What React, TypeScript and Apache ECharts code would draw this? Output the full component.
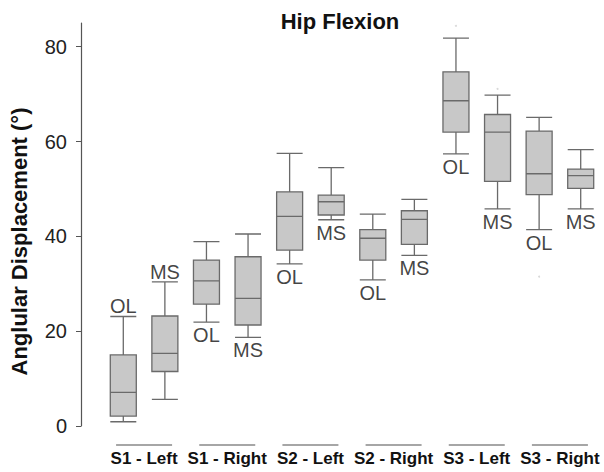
import React, { useEffect, useRef } from "react";
import * as echarts from "echarts";

const boxCategories = [
  "S1 - Left OL", "S1 - Left MS", "S1 - Right OL", "S1 - Right MS",
  "S2 - Left OL", "S2 - Left MS", "S2 - Right OL", "S2 - Right MS",
  "S3 - Left OL", "S3 - Left MS", "S3 - Right OL", "S3 - Right MS",
];
const groupLabels = ["S1 - Left", "S1 - Right", "S2 - Left", "S2 - Right", "S3 - Left", "S3 - Right"];
// [min, Q1, median, Q3, max]
const boxValues = [
  [0.9, 2.1, 7.1, 15.0, 23.1],
  [5.6, 11.5, 15.3, 23.2, 30.4],
  [21.9, 25.7, 30.6, 35.0, 38.9],
  [18.7, 21.3, 26.9, 35.7, 40.5],
  [34.2, 37.1, 44.2, 49.4, 57.5],
  [43.5, 44.5, 47.3, 48.7, 54.5],
  [30.8, 35.0, 39.6, 41.4, 44.7],
  [36.0, 38.3, 43.6, 45.4, 47.8],
  [57.4, 62.0, 68.6, 74.7, 81.8],
  [45.8, 51.6, 62.0, 65.7, 69.8],
  [41.4, 48.8, 53.2, 62.2, 65.1],
  [45.8, 50.1, 52.8, 54.2, 58.3],
];
const phaseLabels = ["OL", "MS", "OL", "MS", "OL", "MS", "OL", "MS", "OL", "MS", "OL", "MS"];
const phaseLabelSide = ["top", "top", "bottom", "bottom", "bottom", "bottom", "bottom", "bottom", "bottom", "bottom", "bottom", "bottom"];
const outliers = [
  [8, 84.4],
  [9, 71.1],
  [10, 31.5],
];
const yTicks = [0, 20, 40, 60, 80];

const FONT = "'Liberation Sans', Arial, Helvetica, sans-serif";

export default function App() {
  const ref = useRef<HTMLDivElement>(null);
  useEffect(() => {
    if (!ref.current) return;
    const chart = echarts.init(ref.current, undefined, { renderer: "svg" });
    const labelData = boxValues.map((b, i) => ({
      value: [i, phaseLabelSide[i] === "top" ? b[4] : b[0]],
      label: {
        position: phaseLabelSide[i],
        distance: phaseLabelSide[i] === "top" ? 0 : 3,
        formatter: phaseLabels[i],
      },
    }));
    chart.setOption({
      animation: false,
      backgroundColor: "#ffffff",
      textStyle: { fontFamily: FONT },
      title: {
        text: "Hip Flexion",
        left: 340,
        top: 10,
        padding: 0,
        textAlign: "center",
        textStyle: { fontSize: 22, fontWeight: "bold", color: "#111", fontFamily: FONT },
      },
      grid: { left: 96.5, right: 2.5, top: 23, bottom: 46, containLabel: false },
      xAxis: [
        {
          type: "category",
          data: boxCategories,
          axisLine: { show: false },
          axisTick: { show: false },
          axisLabel: { show: false },
          splitLine: { show: false },
        },
        {
          type: "category",
          data: groupLabels,
          position: "bottom",
          axisLine: { show: false },
          axisTick: { show: false },
          splitLine: { show: false },
          axisLabel: {
            margin: 18,
            interval: 0,
            formatter: (v: string) => `{u|}\n{t|${v}}`,
            rich: {
              u: { width: 56, height: 2, lineHeight: 2, backgroundColor: "#a6a6a6" },
              t: { fontSize: 17, fontWeight: "bold", color: "#111", lineHeight: 25, fontFamily: FONT },
            },
          },
        },
      ],
      yAxis: {
        type: "value",
        min: 0,
        max: 85,
        interval: 20,
        offset: 21.5,
        name: "Anglular Displacement (°)",
        nameLocation: "middle",
        nameRotate: 90,
        nameGap: 51,
        nameTextStyle: {
          fontSize: 22,
          fontWeight: "bold",
          color: "#111",
          fontFamily: FONT,
          padding: [0, 34, 0, 0],
        },
        axisLine: { show: true, lineStyle: { color: "#555", width: 1.2 } },
        axisTick: { show: true, length: 5, customValues: yTicks, lineStyle: { color: "#555" } },
        axisLabel: { customValues: yTicks, fontSize: 20, color: "#222", margin: 14, fontFamily: FONT },
        splitLine: { show: false },
      },
      series: [
        {
          type: "boxplot",
          xAxisIndex: 0,
          data: boxValues,
          boxWidth: [26, 26],
          itemStyle: { color: "#c8c8c8", borderColor: "#6a6a6a", borderWidth: 1.3 },
        },
        {
          type: "scatter",
          xAxisIndex: 0,
          data: labelData,
          symbolSize: 0,
          silent: true,
          label: { show: true, fontSize: 20, color: "#111", fontFamily: FONT },
        },
        {
          type: "scatter",
          xAxisIndex: 0,
          data: outliers,
          symbolSize: 2,
          itemStyle: { color: "#d0d0d0" },
        },
      ],
    });
    return () => chart.dispose();
  }, []);
  return <div ref={ref} style={{ position: "fixed", left: 0, top: 0, width: 604, height: 472 }} />;
}
